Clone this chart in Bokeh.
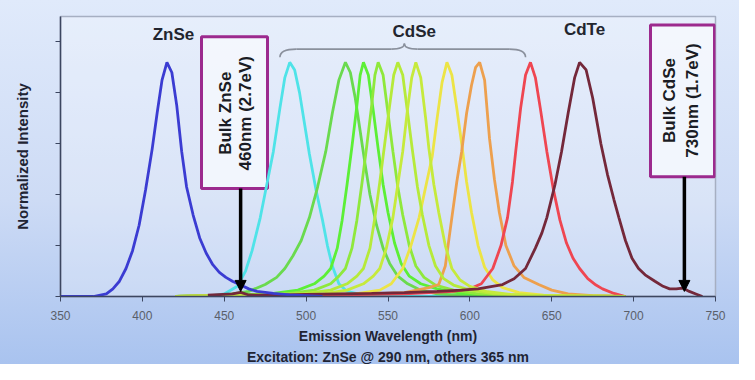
import math
from bokeh.plotting import figure
from bokeh.models import (Range1d, FixedTicker, BoxAnnotation, Arrow, NormalHead, Title,
                          CustomJSTickFormatter)
from bokeh.core.properties import value
from bokeh.embed import file_html
from bokeh.resources import INLINE

# ---------------- data ----------------
x_ticks = [350, 400, 450, 500, 550, 600, 650, 700, 750]
y_ticks = [0, 0.2, 0.4, 0.6, 0.8, 1.0]

znse_wl = [350, 370, 378, 382, 386, 390, 394, 398, 402, 406, 409, 412, 415, 418, 421, 424, 427,
           431, 435, 439, 443, 447, 451, 455, 460, 465, 470, 480, 490, 500, 510]
znse_int = [0.0, 0.0, 0.01, 0.03, 0.06, 0.11, 0.18, 0.28, 0.42, 0.58, 0.72, 0.85, 0.92, 0.88, 0.75,
            0.57, 0.43, 0.32, 0.23, 0.17, 0.125, 0.095, 0.075, 0.06, 0.045, 0.03, 0.02, 0.012,
            0.006, 0.003, 0.0]

cdse490_wl = [420, 440, 450, 458, 463, 467, 472, 476, 480, 484, 487, 490, 493, 496, 499, 502, 506,
              510, 513, 516, 520, 525, 535, 550, 695]
cdse490_int = [0.0, 0.0, 0.01, 0.04, 0.1, 0.18, 0.31, 0.44, 0.57, 0.74, 0.86, 0.92, 0.89, 0.8,
               0.68, 0.56, 0.42, 0.3, 0.2, 0.12, 0.05, 0.02, 0.005, 0.0, 0.0]

cdse524_wl = [420, 450, 465, 475, 482, 487, 492, 497, 502, 507, 512, 516, 520, 524, 527, 530, 533,
              536, 539, 543, 547, 551, 556, 562, 570, 580, 600, 695]
cdse524_int = [0.0, 0.005, 0.02, 0.047, 0.075, 0.11, 0.16, 0.22, 0.31, 0.43, 0.57, 0.72, 0.85, 0.92,
               0.88, 0.78, 0.65, 0.52, 0.4, 0.28, 0.19, 0.13, 0.08, 0.05, 0.025, 0.01, 0.003, 0.0]

cdse535_wl = [420, 455, 480, 495, 505, 511, 515, 519, 522, 525, 528, 531, 533, 535, 538, 541, 544,
              547, 550, 554, 558, 563, 570, 580, 595, 615, 695]
cdse535_int = [0.0, 0.005, 0.012, 0.025, 0.05, 0.08, 0.11, 0.19, 0.3, 0.44, 0.59, 0.75, 0.87, 0.92,
               0.87, 0.73, 0.58, 0.44, 0.33, 0.21, 0.13, 0.08, 0.05, 0.03, 0.012, 0.004, 0.0]

cdse544_wl = [420, 460, 490, 505, 515, 520, 524, 528, 531, 534, 537, 540, 542, 544, 547, 550, 553,
              556, 559, 563, 567, 572, 579, 590, 605, 625, 695]
cdse544_int = [0.0, 0.005, 0.012, 0.025, 0.05, 0.08, 0.11, 0.19, 0.3, 0.44, 0.59, 0.75, 0.87, 0.92,
               0.87, 0.72, 0.57, 0.43, 0.32, 0.2, 0.12, 0.075, 0.045, 0.025, 0.01, 0.004, 0.0]

cdse556_wl = [420, 470, 500, 515, 525, 531, 535, 539, 542, 545, 548, 551, 553.5, 556, 559, 562, 565,
              568, 571, 575, 579, 584, 590, 600, 615, 635, 695]
cdse556_int = [0.0, 0.005, 0.012, 0.025, 0.05, 0.08, 0.11, 0.19, 0.31, 0.45, 0.6, 0.75, 0.87, 0.92,
               0.87, 0.72, 0.57, 0.43, 0.32, 0.2, 0.12, 0.07, 0.045, 0.025, 0.01, 0.004, 0.0]

cdse567_wl = [420, 480, 510, 525, 535, 541, 545, 549, 553, 556, 559, 562, 564.5, 567, 570, 573, 575,
              578, 581, 585, 589, 594, 600, 610, 625, 645, 695]
cdse567_int = [0.0, 0.005, 0.01, 0.025, 0.05, 0.08, 0.11, 0.19, 0.31, 0.44, 0.57, 0.74, 0.86, 0.92,
               0.86, 0.7, 0.58, 0.44, 0.33, 0.2, 0.11, 0.065, 0.04, 0.02, 0.008, 0.003, 0.0]

cdse586_wl = [420, 500, 530, 545, 552, 559, 564, 569, 573, 577, 580, 583, 586, 589, 592, 595, 598,
              601, 605, 609, 614, 620, 630, 645, 695]
cdse586_int = [0.0, 0.005, 0.01, 0.025, 0.05, 0.11, 0.2, 0.31, 0.43, 0.55, 0.7, 0.84, 0.92, 0.87,
               0.74, 0.6, 0.45, 0.33, 0.2, 0.115, 0.065, 0.035, 0.015, 0.005, 0.0]

cdse606_wl = [420, 520, 560, 575, 581, 585, 589, 592, 595, 598, 601, 603.5, 606, 609, 612, 615, 618,
              622, 627, 633, 642, 650, 660, 675, 695]
cdse606_int = [0.0, 0.005, 0.015, 0.035, 0.047, 0.12, 0.31, 0.45, 0.57, 0.72, 0.83, 0.9, 0.92, 0.85,
               0.62, 0.46, 0.33, 0.2, 0.12, 0.075, 0.047, 0.025, 0.01, 0.003, 0.0]

cdse637_wl = [420, 500, 560, 590, 600, 607, 614, 619, 623, 626, 628, 631, 634, 637, 640, 643, 647,
              651, 655, 659, 663, 667, 672, 677, 681, 688, 695]
cdse637_int = [0.0, 0.005, 0.01, 0.02, 0.03, 0.05, 0.11, 0.2, 0.31, 0.45, 0.57, 0.74, 0.87, 0.92,
               0.86, 0.74, 0.57, 0.42, 0.3, 0.21, 0.15, 0.11, 0.07, 0.045, 0.03, 0.012, 0.0]

cdte_wl = [440, 455, 460, 465, 480, 500, 520, 540, 560, 580, 595, 605, 612, 620, 627, 634, 640, 644,
           647, 652, 656, 660, 664, 667, 671, 675, 680, 684, 688, 691, 695, 699, 703, 707, 713, 718,
           722, 726, 730, 734, 738, 742]
cdte_int = [0.005, 0.01, 0.016, 0.006, 0.005, 0.008, 0.01, 0.012, 0.015, 0.02, 0.025, 0.03, 0.038,
            0.047, 0.07, 0.11, 0.19, 0.25, 0.31, 0.44, 0.57, 0.72, 0.86, 0.92, 0.89, 0.78, 0.6, 0.48,
            0.38, 0.31, 0.22, 0.15, 0.11, 0.085, 0.06, 0.04, 0.03, 0.03, 0.033, 0.02, 0.01, 0.0]

# drawing order, colours
series = [
    (cdse490_wl, cdse490_int, "#4fe3e8"),
    (cdse524_wl, cdse524_int, "#6ada4e"),
    (cdse535_wl, cdse535_int, "#5cef36"),
    (cdse544_wl, cdse544_int, "#8fe83c"),
    (cdse586_wl, cdse586_int, "#ece446"),
    (cdse606_wl, cdse606_int, "#eda04e"),
    (cdse637_wl, cdse637_int, "#ef4651"),
    (cdse556_wl, cdse556_int, "#b6ea3a"),
    (cdse567_wl, cdse567_int, "#c6ea3c"),
    (cdte_wl, cdte_int, "#74283a"),
    (znse_wl, znse_int, "#3b3cd2"),
]

FONT = "Liberation Sans"

p = figure(width=739, height=364, output_backend="svg", toolbar_location=None,
           x_range=Range1d(350, 750), y_range=Range1d(0, 1.1),
           min_border_left=60, min_border_right=24, min_border_top=16, min_border_bottom=67)
p.styles = {"background": "linear-gradient(180deg, #e0eafb 0%, #cddbf5 55%, #a9c3ef 100%)"}
p.border_fill_alpha = 0
p.background_fill_color = "white"
p.background_fill_alpha = 0.25
p.outline_line_color = "#a6afc2"
p.outline_line_width = 1.5
p.grid.visible = False

# bulk boxes (behind everything drawn later)
box_col = "#9c2a8e"
for (l, r, b, t) in [(436.1, 476.4, 0.424, 1.02), (710.3, 749.4, 0.47, 1.067)]:
    p.add_layout(BoxAnnotation(left=l, right=r, bottom=b, top=t, fill_color="#f4f7fd",
                               fill_alpha=0.9, line_color=box_col, line_alpha=1.0,
                               line_width=3, level="underlay"))

for wl, it, col in series:
    p.line(wl, it, line_color=col, line_width=2.8)

# axes
p.xaxis.ticker = FixedTicker(ticks=x_ticks)
p.xaxis.minor_tick_line_color = None
p.xaxis.major_tick_out = 5
p.xaxis.major_tick_in = 0
p.xaxis.axis_line_color = "#3c4660"
p.xaxis.axis_line_width = 1.5
p.xaxis.major_tick_line_color = "#3c4660"
p.xaxis.major_label_text_font = FONT
p.xaxis.major_label_text_font_size = "12px"
p.xaxis.major_label_text_color = "#5a5f6a"
p.xaxis.major_label_standoff = 9
p.xaxis.axis_label = "Emission Wavelength (nm)"
p.xaxis.axis_label_text_font = FONT
p.xaxis.axis_label_text_font_style = "bold"
p.xaxis.axis_label_text_font_size = "14px"
p.xaxis.axis_label_text_color = "#1f2433"
p.xaxis.axis_label_standoff = 5

p.yaxis.ticker = FixedTicker(ticks=y_ticks)
p.yaxis.minor_tick_line_color = None
p.yaxis.major_tick_out = 5
p.yaxis.major_tick_in = 0
p.yaxis.axis_line_color = "#3c4660"
p.yaxis.axis_line_width = 1.5
p.yaxis.major_tick_line_color = "#3c4660"
p.yaxis.major_label_text_font_size = "0px"
p.yaxis.major_label_standoff = 0
p.yaxis.formatter = CustomJSTickFormatter(code="return ''")
p.yaxis.axis_label = "Normalized Intensity"
p.yaxis.axis_label_text_font = FONT
p.yaxis.axis_label_text_font_style = "bold"
p.yaxis.axis_label_text_font_size = "15px"
p.yaxis.axis_label_text_color = "#1f2433"
p.yaxis.axis_label_standoff = 25

sub = Title(text="Excitation: ZnSe @ 290 nm, others 365 nm", align="center",
            text_font=FONT, text_font_size="14px", text_font_style="bold",
            text_color="#1f2433", standoff=0)
p.add_layout(sub, "below")

# material labels
p.text(x=[419, 566, 670], y=[1.03, 1.04, 1.05], text=["ZnSe", "CdSe", "CdTe"],
       text_font=value(FONT), text_font_style="bold", text_font_size="17px",
       text_color="#22252e", text_align="center", text_baseline="middle")

# brace over the CdSe curves
bx0, bx1, bmid = 484, 634, 560
by_end, by_line, by_tip = 0.94, 0.972, 0.994
brace_col = "#8a909c"
p.quadratic(x0=[bx0, bmid - 8, bmid, bx1 - 10], y0=[by_end, by_line, by_tip, by_line],
            x1=[bx0 + 10, bmid, bmid + 8, bx1], y1=[by_line, by_tip, by_line, by_end],
            cx=[bx0, bmid, bmid, bx1], cy=[by_line, by_line, by_line, by_line],
            line_color=brace_col, line_width=1.6)
p.segment(x0=[bx0 + 10, bmid + 8], y0=[by_line, by_line], x1=[bmid - 8, bx1 - 10],
          y1=[by_line, by_line], line_color=brace_col, line_width=1.6)

# arrows from the bulk boxes to the axis
for (xa, yb) in [(460, 0.424), (731, 0.47)]:
    p.add_layout(Arrow(x_start=xa, y_start=yb, x_end=xa, y_end=0.02, line_width=3.5,
                       line_color="black",
                       end=NormalHead(size=11, fill_color="black", line_color="black")))

p.text(x=[450.8, 463.2, 721.8, 736.0], y=[0.72, 0.72, 0.77, 0.77],
       text=["Bulk ZnSe", "460nm (2.7eV)", "Bulk CdSe", "730nm (1.7eV)"],
       angle=math.pi / 2, text_font=value(FONT), text_font_style="bold",
       text_font_size="17px", text_color="#1a1c24", text_align="center",
       text_baseline="middle")

open("out.html", "w").write(file_html(p, INLINE))
